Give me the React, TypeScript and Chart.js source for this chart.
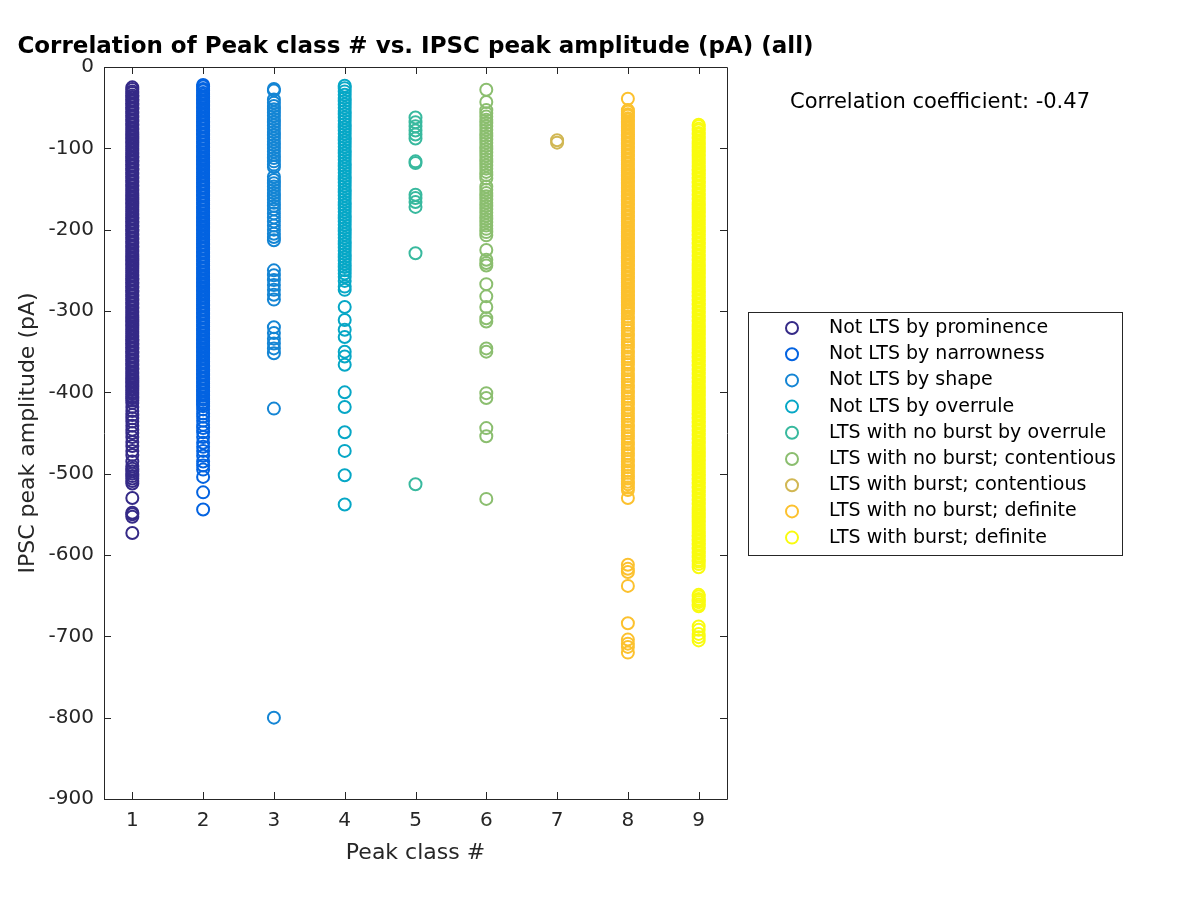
import React, { useEffect, useRef } from "react";
import { Chart, registerables } from "chart.js";

Chart.register(...registerables);

const classLabels = [
  "Not LTS by prominence",
  "Not LTS by narrowness",
  "Not LTS by shape",
  "Not LTS by overrule",
  "LTS with no burst by overrule",
  "LTS with no burst; contentious",
  "LTS with burst; contentious",
  "LTS with no burst; definite",
  "LTS with burst; definite",
];

const classColors = [
  "#352a87",
  "#0363e1",
  "#1485d4",
  "#06a7c6",
  "#38b99e",
  "#8bbe6f",
  "#d1b753",
  "#fcc12e",
  "#f9fb0e",
];

const class1 = [-25, -27, -30, -32, -35, -37, -40, -42, -45, -47, -50, -52, -55, -57, -60, -62, -65, -67, -70, -72, -75, -77, -80, -82, -85, -87, -90, -92, -95, -97, -100, -102, -105, -107, -110, -112, -115, -117, -120, -122, -125, -127, -130, -132, -135, -137, -140, -142, -145, -147, -150, -152, -155, -157, -160, -162, -165, -167, -170, -172, -175, -177, -180, -182, -185, -187, -190, -192, -195, -197, -200, -202, -205, -207, -210, -212, -215, -217, -220, -222, -225, -227, -230, -232, -235, -237, -240, -242, -245, -247, -250, -252, -255, -257, -260, -262, -265, -267, -270, -272, -275, -277, -280, -282, -285, -287, -290, -292, -295, -297, -300, -302, -305, -307, -310, -312, -315, -317, -320, -322, -325, -327, -330, -332, -335, -337, -340, -342, -345, -347, -350, -352, -355, -357, -360, -362, -365, -367, -370, -372, -375, -377, -380, -382, -385, -387, -390, -392, -395, -397, -400, -402, -405, -407, -410, -413, -418, -423, -428, -432, -436, -441, -446, -450, -455, -461, -466, -472, -477, -485, -491, -494, -497, -500, -503, -506, -509, -512, -530, -548, -550, -553, -573];

const class2 = [-22, -24, -27, -29, -32, -34, -37, -39, -42, -44, -47, -49, -52, -54, -57, -59, -62, -64, -67, -69, -72, -74, -77, -79, -82, -84, -87, -89, -92, -94, -97, -99, -102, -104, -107, -109, -112, -114, -117, -119, -122, -124, -127, -129, -132, -134, -137, -139, -142, -144, -147, -149, -152, -154, -157, -159, -162, -164, -167, -169, -172, -174, -177, -179, -182, -184, -187, -189, -192, -194, -197, -199, -202, -204, -207, -209, -212, -214, -217, -219, -222, -224, -227, -229, -232, -234, -237, -239, -242, -244, -247, -249, -252, -254, -257, -259, -262, -264, -267, -269, -272, -274, -277, -279, -282, -284, -287, -289, -292, -294, -297, -299, -302, -304, -307, -309, -312, -314, -317, -319, -322, -324, -327, -329, -332, -334, -337, -339, -342, -344, -347, -349, -352, -354, -357, -359, -362, -364, -367, -369, -372, -374, -377, -379, -382, -384, -387, -389, -392, -394, -397, -399, -402, -404, -407, -409, -412, -414, -417, -421, -426, -430, -435, -440, -444, -449, -455, -462, -467, -472, -478, -485, -490, -495, -504, -523, -544];

const class3 = [-27, -29, -40, -44, -48, -52, -56, -60, -64, -68, -72, -76, -80, -84, -88, -92, -96, -100, -104, -108, -112, -116, -120, -123, -135, -139, -143, -147, -151, -155, -159, -163, -167, -171, -175, -180, -185, -190, -195, -200, -205, -209, -213, -250, -256, -262, -268, -274, -280, -286, -320, -327, -334, -340, -346, -352, -420, -800];

const class4 = [-23, -26, -30, -34, -38, -42, -46, -50, -54, -58, -62, -66, -70, -74, -78, -82, -86, -90, -94, -98, -102, -106, -110, -114, -118, -122, -126, -130, -134, -138, -142, -146, -150, -154, -158, -162, -166, -170, -174, -178, -182, -186, -190, -194, -198, -202, -206, -210, -214, -218, -222, -226, -230, -234, -238, -242, -246, -250, -254, -258, -263, -270, -274, -295, -311, -323, -332, -350, -356, -366, -400, -418, -449, -472, -502, -538];

const class5 = [-62, -68, -73, -78, -83, -88, -116, -118, -157, -161, -166, -172, -229, -513];

const class6 = [-28, -43, -53, -57, -61, -65, -69, -73, -77, -81, -85, -89, -93, -97, -101, -105, -109, -113, -117, -121, -125, -129, -133, -137, -147, -151, -155, -159, -163, -167, -171, -175, -179, -183, -187, -191, -195, -199, -203, -207, -225, -237, -241, -244, -267, -282, -295, -309, -313, -346, -350, -401, -407, -444, -454, -531];

const class7 = [-90, -93];

const class8 = [-39, -53, -55, -58, -60, -63, -65, -68, -70, -73, -75, -78, -80, -83, -85, -88, -90, -93, -95, -98, -100, -103, -105, -108, -110, -113, -115, -118, -120, -123, -125, -128, -130, -133, -135, -138, -140, -143, -145, -148, -150, -153, -155, -158, -160, -163, -165, -168, -170, -173, -175, -178, -180, -183, -185, -188, -190, -193, -195, -198, -200, -203, -205, -208, -210, -213, -215, -218, -220, -223, -225, -228, -230, -233, -235, -238, -240, -243, -245, -248, -250, -253, -255, -258, -260, -263, -265, -268, -270, -273, -275, -278, -280, -283, -285, -288, -290, -293, -295, -298, -300, -303, -307, -310, -314, -317, -321, -324, -328, -331, -335, -338, -342, -345, -349, -352, -356, -359, -363, -366, -370, -373, -377, -380, -384, -387, -391, -394, -398, -401, -405, -408, -412, -415, -419, -422, -426, -429, -433, -436, -440, -443, -447, -450, -454, -457, -461, -464, -468, -471, -475, -478, -482, -485, -489, -492, -496, -499, -503, -506, -510, -513, -517, -520, -530, -612, -617, -621, -638, -684, -704, -709, -713, -720];

const class9 = [-71, -73, -76, -78, -81, -83, -86, -88, -91, -93, -96, -98, -101, -103, -106, -108, -111, -113, -116, -118, -121, -123, -126, -128, -131, -133, -136, -138, -141, -143, -146, -148, -151, -153, -156, -158, -161, -163, -166, -168, -171, -173, -176, -178, -181, -183, -186, -188, -191, -193, -196, -198, -201, -203, -206, -208, -211, -213, -216, -218, -221, -223, -226, -228, -231, -233, -236, -238, -241, -243, -246, -248, -251, -253, -256, -258, -261, -263, -266, -268, -271, -273, -276, -278, -281, -283, -286, -288, -291, -293, -296, -298, -301, -303, -306, -308, -311, -313, -316, -318, -321, -323, -326, -328, -331, -333, -336, -338, -341, -343, -346, -348, -351, -353, -356, -358, -361, -363, -366, -368, -371, -373, -376, -378, -381, -383, -386, -388, -391, -393, -396, -398, -401, -403, -406, -408, -411, -413, -416, -418, -421, -423, -426, -428, -431, -433, -436, -438, -441, -443, -446, -448, -451, -453, -456, -458, -461, -463, -466, -468, -471, -473, -476, -478, -481, -483, -486, -488, -491, -493, -496, -498, -501, -503, -506, -508, -511, -513, -516, -518, -521, -523, -526, -528, -531, -533, -536, -538, -541, -543, -546, -548, -551, -553, -556, -558, -561, -563, -566, -568, -571, -573, -576, -578, -581, -583, -586, -588, -591, -593, -596, -598, -601, -603, -606, -608, -611, -615, -649, -651, -654, -656, -658, -661, -663, -688, -692, -697, -701, -705];

const classValues = [class1, class2, class3, class4, class5, class6, class7, class8, class9];

const xTickValues = [1, 2, 3, 4, 5, 6, 7, 8, 9];
const yMin = -900;
const yMax = 0;
const yStep = 100;
const xMin = 0.6;
const xMax = 9.4;

const titleText = "Correlation of Peak class # vs. IPSC peak amplitude (pA) (all)";
const xLabel = "Peak class #";
const yLabel = "IPSC peak amplitude (pA)";
const corrText = "Correlation coefficient: -0.47";

const FONT = "'DejaVu Sans', 'Liberation Sans', sans-serif";
const AXIS_COLOR = "#262626";

export default function App() {
  const ref = useRef<HTMLCanvasElement>(null);

  useEffect(() => {
    if (!ref.current) return;
    const datasets = classValues.map((vals, i) => ({
      label: classLabels[i],
      data: vals.map((v) => ({ x: i + 1, y: v })),
      borderColor: classColors[i],
      backgroundColor: "rgba(0,0,0,0)",
      pointRadius: 6,
      pointHoverRadius: 6,
      pointBorderWidth: 2,
      pointStyle: "circle",
      showLine: false,
    }));

    const overlay = {
      id: "overlay",
      afterDraw(chart: any) {
        const { ctx, chartArea } = chart;
        const { left, right, top, bottom } = chartArea;
        const xs = chart.scales.x;
        const ys = chart.scales.y;
        ctx.save();
        ctx.strokeStyle = AXIS_COLOR;
        ctx.lineWidth = 1;
        ctx.beginPath();
        ctx.rect(Math.round(left) + 0.5, Math.round(top) + 0.5, Math.round(right - left), Math.round(bottom - top));
        ctx.stroke();
        const tl = 7;
        ctx.beginPath();
        xs.ticks.forEach((t: any) => {
          const px = Math.round(xs.getPixelForValue(t.value)) + 0.5;
          ctx.moveTo(px, bottom);
          ctx.lineTo(px, bottom - tl);
          ctx.moveTo(px, top);
          ctx.lineTo(px, top + tl);
        });
        ys.ticks.forEach((t: any) => {
          const py = Math.round(ys.getPixelForValue(t.value)) + 0.5;
          ctx.moveTo(left, py);
          ctx.lineTo(left + tl, py);
          ctx.moveTo(right, py);
          ctx.lineTo(right - tl, py);
        });
        ctx.stroke();

        ctx.fillStyle = "#000000";
        ctx.font = `bold 23px ${FONT}`;
        ctx.textAlign = "center";
        ctx.textBaseline = "middle";
        ctx.fillText(titleText, (left + right) / 2, 47);

        ctx.fillStyle = AXIS_COLOR;
        ctx.font = `22px ${FONT}`;
        ctx.fillText(xLabel, (left + right) / 2, 853);
        ctx.save();
        ctx.translate(28, (top + bottom) / 2);
        ctx.rotate(-Math.PI / 2);
        ctx.fillText(yLabel, 0, 0);
        ctx.restore();

        ctx.fillStyle = "#000000";
        ctx.font = `21px ${FONT}`;
        ctx.textAlign = "left";
        ctx.fillText(corrText, 790, 103);

        const lx = 748, ly = 312, lw = 374, lh = 243;
        ctx.fillStyle = "#ffffff";
        ctx.fillRect(lx, ly, lw, lh);
        ctx.strokeStyle = AXIS_COLOR;
        ctx.lineWidth = 1;
        ctx.strokeRect(lx + 0.5, ly + 0.5, lw, lh);
        ctx.font = `19px ${FONT}`;
        ctx.textAlign = "left";
        ctx.textBaseline = "middle";
        classLabels.forEach((lab, i) => {
          const cy = 328 + i * 26.2;
          ctx.beginPath();
          ctx.strokeStyle = classColors[i];
          ctx.lineWidth = 2;
          ctx.arc(792, cy, 6, 0, Math.PI * 2);
          ctx.stroke();
          ctx.fillStyle = "#000000";
          ctx.fillText(lab, 829, cy);
        });
        ctx.restore();
      },
    };

    const chart = new Chart(ref.current, {
      type: "scatter",
      data: { datasets },
      options: {
        responsive: false,
        animation: false,
        layout: { padding: { left: 0, top: 67, right: 473, bottom: 0 } },
        plugins: {
          legend: { display: false },
          title: { display: false },
          tooltip: { enabled: false },
        },
        scales: {
          x: {
            type: "linear",
            min: xMin,
            max: xMax,
            afterBuildTicks: (s: any) => {
              s.ticks = xTickValues.map((v) => ({ value: v }));
            },
            afterFit: (s: any) => {
              s.height = 101;
            },
            grid: { display: false, drawTicks: false },
            border: { display: false },
            ticks: {
              color: AXIS_COLOR,
              font: { family: FONT, size: 20 },
              padding: 10,
              maxRotation: 0,
              autoSkip: false,
            },
          },
          y: {
            type: "linear",
            min: yMin,
            max: yMax,
            afterFit: (s: any) => {
              s.width = 104;
            },
            grid: { display: false, drawTicks: false },
            border: { display: false },
            ticks: {
              stepSize: yStep,
              color: AXIS_COLOR,
              font: { family: FONT, size: 20 },
              padding: 10,
              autoSkip: false,
            },
          },
        },
      },
      plugins: [overlay],
    } as any);

    return () => chart.destroy();
  }, []);

  return (
    <div style={{ position: "absolute", left: 0, top: 0, width: 1200, height: 900, background: "#ffffff" }}>
      <canvas ref={ref} width={1200} height={900} style={{ width: 1200, height: 900, display: "block" }} />
    </div>
  );
}
